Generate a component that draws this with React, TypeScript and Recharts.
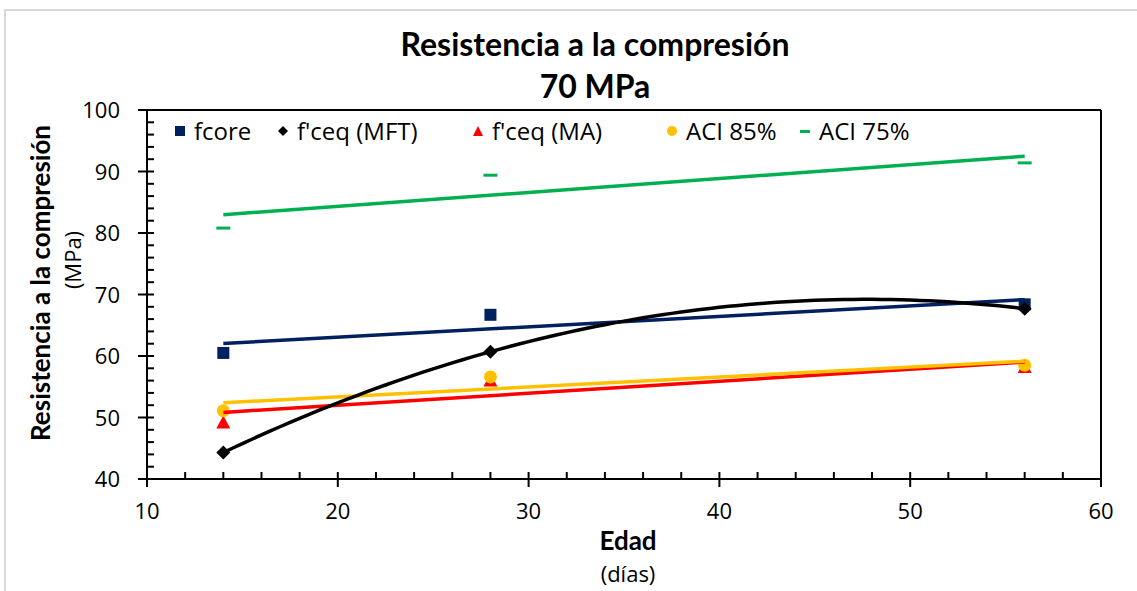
import React from 'react';
import { ScatterChart, Scatter, XAxis, YAxis, ReferenceLine } from 'recharts';

// edades de ensayo (días)
const ages = [14, 28, 56];

// resistencias (MPa)
const fcore = [60.5, 66.7, 68.4];
const fceqMFT = [44.3, 60.7, 67.7];
const fceqMA = [49.2, 56.0, 58.2];
const aci85 = [51.1, 56.6, 58.5];
const aci75 = [80.8, 89.4, 91.4];

const seriesNames = ['fcore', "f'ceq (MFT)", "f'ceq (MA)", 'ACI 85%', 'ACI 75%'];

const xTicks = [10, 12, 14, 16, 18, 20, 22, 24, 26, 28, 30, 32, 34, 36, 38, 40, 42, 44, 46, 48, 50, 52, 54, 56, 58, 60];
const yTicks = [40, 42, 44, 46, 48, 50, 52, 54, 56, 58, 60, 62, 64, 66, 68, 70, 72, 74, 76, 78, 80, 82, 84, 86, 88, 90, 92, 94, 96, 98, 100];

const NAVY = '#002060';
const BLACK = '#000000';
const RED = '#FF0000';
const GOLD = '#FFC000';
const GREEN = '#00B050';

const FONT = '"Open Sans", sans-serif';
const TITLE_FONT = 'Lato, sans-serif';

const toPoints = (ys: number[]) => ages.map((x, i) => ({ x, y: ys[i] }));

// linear least-squares trendline, like Excel's
const linearTrend = (ys: number[]) => {
  const n = ages.length;
  const mx = ages.reduce((a, b) => a + b, 0) / n;
  const my = ys.reduce((a, b) => a + b, 0) / n;
  let sxy = 0;
  let sxx = 0;
  ages.forEach((x, i) => {
    sxy += (x - mx) * (ys[i] - my);
    sxx += (x - mx) * (x - mx);
  });
  const m = sxy / sxx;
  const b = my - m * mx;
  const x0 = Math.min(...ages);
  const x1 = Math.max(...ages);
  return [{ x: x0, y: m * x0 + b }, { x: x1, y: m * x1 + b }];
};

// 2nd order polynomial trendline through the 3 points
const polyTrend = (ys: number[]) => {
  const [x0, x1, x2] = ages;
  const [y0, y1, y2] = ys;
  const f = (x: number) =>
    (y0 * (x - x1) * (x - x2)) / ((x0 - x1) * (x0 - x2)) +
    (y1 * (x - x0) * (x - x2)) / ((x1 - x0) * (x1 - x2)) +
    (y2 * (x - x0) * (x - x1)) / ((x2 - x0) * (x2 - x1));
  const pts = [];
  for (let x = x0; x <= x2; x += 0.5) pts.push({ x, y: f(x) });
  return pts;
};

// marker shapes (recharts passes its own "size", so use fixed ones)
const Square = ({ cx, cy }: any) => <rect x={cx - 6} y={cy - 6} width={12} height={12} fill={NAVY} />;
const Diamond = ({ cx, cy }: any) => (
  <polygon points={`${cx},${cy - 7} ${cx + 7},${cy} ${cx},${cy + 7} ${cx - 7},${cy}`} fill={BLACK} />
);
const Triangle = ({ cx, cy }: any) => (
  <polygon points={`${cx},${cy - 7} ${cx + 7},${cy + 6} ${cx - 7},${cy + 6}`} fill={RED} />
);
const Dot = ({ cx, cy }: any) => <circle cx={cx} cy={cy} r={6.5} fill={GOLD} />;
const Dash = ({ cx, cy }: any) => <rect x={cx - 7} y={cy - 1.5} width={14} height={3} fill={GREEN} />;
const NoShape = () => <g />;

const XTick = ({ x, y, payload }: any) => {
  const major = payload.value % 10 === 0;
  return (
    <g>
      <line x1={x} x2={x} y1={y - 7} y2={major ? y + 8 : y} stroke="#000" strokeWidth={2} />
      {major && (
        <text x={x} y={y + 40} textAnchor="middle" fontFamily={FONT} fontSize={22} fill="#000">
          {payload.value}
        </text>
      )}
    </g>
  );
};

const YTick = ({ x, y, payload }: any) => {
  const major = payload.value % 10 === 0;
  return (
    <g>
      <line x1={major ? x - 9 : x} x2={x + 7} y1={y} y2={y} stroke="#000" strokeWidth={2} />
      {major && (
        <text x={x - 27} y={y + 8} textAnchor="end" fontFamily={FONT} fontSize={22} fill="#000">
          {payload.value}
        </text>
      )}
    </g>
  );
};

const legendIcons = [
  <svg width="12" height="12"><rect x="1" y="1" width="10" height="10" fill={NAVY} /></svg>,
  <svg width="12" height="12"><polygon points="6,1 11,6 6,11 1,6" fill={BLACK} /></svg>,
  <svg width="12" height="12"><polygon points="6,1 11,11 1,11" fill={RED} /></svg>,
  <svg width="12" height="12"><circle cx="6" cy="6" r="5" fill={GOLD} /></svg>,
  <svg width="12" height="12"><rect x="1" y="5" width="10" height="3" fill={GREEN} /></svg>,
];
const legendLeft = [174, 277, 472, 666, 799];

const trendLine = (color: string) => ({ stroke: color, strokeWidth: 3.5 });

export default function App() {
  return (
    <div style={{ position: 'absolute', left: 0, top: 0, width: 1137, height: 591, background: '#fff', overflow: 'hidden' }}>
      <div style={{ position: 'absolute', left: 4, top: 9, width: 1200, height: 700, border: '2px solid #d9d9d9' }} />

      <div style={{ position: 'absolute', left: 0, width: 1190, top: 23, textAlign: 'center', fontFamily: TITLE_FONT, fontWeight: 700, fontSize: 32, lineHeight: '42px', color: '#000' }}>
        Resistencia a la compresión
        <br />
        70 MPa
      </div>

      <ScatterChart width={1137} height={591} margin={{ top: 110, right: 36, bottom: 0, left: 0 }} style={{ position: 'absolute', left: 0, top: 0 }}>
        <XAxis
          type="number"
          dataKey="x"
          domain={[10, 60]}
          ticks={xTicks}
          interval={0}
          tickSize={0}
          tickMargin={0}
          tick={<XTick />}
          axisLine={{ stroke: '#000', strokeWidth: 2 }}
          height={112}
          allowDataOverflow
        />
        <YAxis
          type="number"
          dataKey="y"
          domain={[40, 100]}
          ticks={yTicks}
          interval={0}
          tickSize={0}
          tickMargin={0}
          tick={<YTick />}
          axisLine={{ stroke: '#000', strokeWidth: 2 }}
          width={147}
          allowDataOverflow
        />
        <ReferenceLine y={100} stroke="#000" strokeWidth={2} />
        <ReferenceLine x={60} stroke="#000" strokeWidth={2} />

        <Scatter data={toPoints(fcore)} shape={<Square />} isAnimationActive={false} />
        <Scatter data={toPoints(fceqMA)} shape={<Triangle />} isAnimationActive={false} />
        <Scatter data={toPoints(aci85)} shape={<Dot />} isAnimationActive={false} />
        <Scatter data={toPoints(aci75)} shape={<Dash />} isAnimationActive={false} />
        <Scatter data={toPoints(fceqMFT)} shape={<Diamond />} isAnimationActive={false} />

        <Scatter data={linearTrend(fcore)} line={trendLine(NAVY)} shape={<NoShape />} isAnimationActive={false} />
        <Scatter data={linearTrend(fceqMA)} line={trendLine(RED)} shape={<NoShape />} isAnimationActive={false} />
        <Scatter data={linearTrend(aci85)} line={trendLine(GOLD)} shape={<NoShape />} isAnimationActive={false} />
        <Scatter data={linearTrend(aci75)} line={trendLine(GREEN)} shape={<NoShape />} isAnimationActive={false} />
        <Scatter data={polyTrend(fceqMFT)} line={trendLine(BLACK)} shape={<NoShape />} isAnimationActive={false} />
      </ScatterChart>

      {seriesNames.map((name, i) => (
        <div
          key={name}
          style={{ position: 'absolute', left: legendLeft[i], top: 114, display: 'flex', alignItems: 'center', fontFamily: FONT, fontSize: 24, color: '#000', whiteSpace: 'nowrap' }}
        >
          <span style={{ display: 'inline-flex', marginRight: 8 }}>{legendIcons[i]}</span>
          <span>{name}</span>
        </div>
      ))}

      <div style={{ position: 'absolute', left: 40, top: 283, width: 0, height: 0 }}>
        <div style={{ position: 'absolute', transform: 'translate(-50%, -50%) rotate(-90deg)', fontFamily: TITLE_FONT, fontWeight: 700, fontSize: 26, whiteSpace: 'nowrap' }}>
          Resistencia a la compresión
        </div>
      </div>
      <div style={{ position: 'absolute', left: 72, top: 260, width: 0, height: 0 }}>
        <div style={{ position: 'absolute', transform: 'translate(-50%, -50%) rotate(-90deg)', fontFamily: FONT, fontSize: 22, whiteSpace: 'nowrap' }}>
          (MPa)
        </div>
      </div>

      <div style={{ position: 'absolute', left: 628, top: 540, transform: 'translate(-50%, -50%)', fontFamily: TITLE_FONT, fontWeight: 700, fontSize: 26 }}>
        Edad
      </div>
      <div style={{ position: 'absolute', left: 628, top: 573, transform: 'translate(-50%, -50%)', fontFamily: FONT, fontSize: 22 }}>
        (días)
      </div>
    </div>
  );
}
